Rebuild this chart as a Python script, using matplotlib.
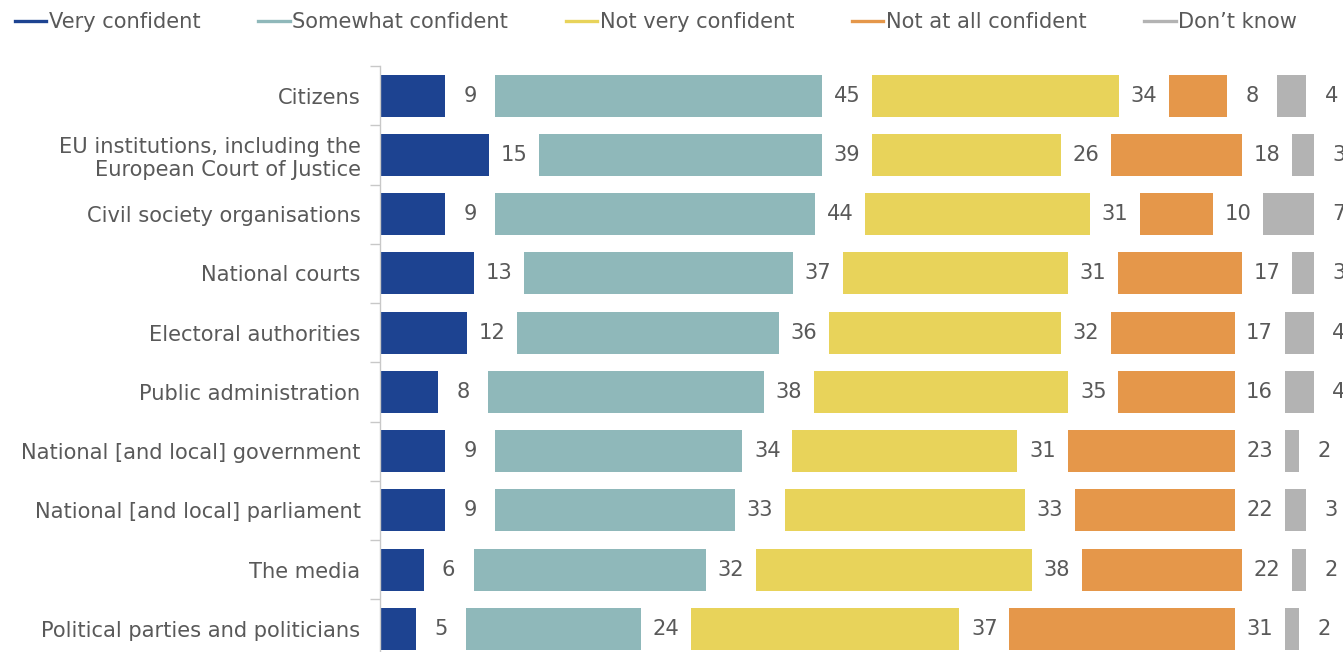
import numpy as np
import matplotlib
matplotlib.use("Agg")
import matplotlib.pyplot as plt
from matplotlib.lines import Line2D

FS = 15.1
plt.rcParams.update({
    "font.family": "DejaVu Sans",
    "font.size": FS,
})

CATEGORIES = [
    "Citizens",
    "EU institutions, including the\nEuropean Court of Justice",
    "Civil society organisations",
    "National courts",
    "Electoral authorities",
    "Public administration",
    "National [and local] government",
    "National [and local] parliament",
    "The media",
    "Political parties and politicians",
]
SERIES = ["Very confident", "Somewhat confident", "Not very confident",
          "Not at all confident", "Don\u2019t know"]

very_confident = [9, 15, 9, 13, 12, 8, 9, 9, 6, 5]
somewhat_confident = [45, 39, 44, 37, 36, 38, 34, 33, 32, 24]
not_very_confident = [34, 26, 31, 31, 32, 35, 31, 33, 38, 37]
not_at_all_confident = [8, 18, 10, 17, 17, 16, 23, 22, 22, 31]
dont_know = [4, 3, 7, 3, 4, 4, 2, 3, 2, 2]

COLORS = ["#1D4391", "#8FB8BA", "#E8D35A", "#E5974A", "#B3B3B3"]
TEXT = "#595959"
GAP = 6.9  # blank space after each segment, holds the value label

values = np.array([very_confident, somewhat_confident, not_very_confident,
                   not_at_all_confident, dont_know], dtype=float)

W, H = 1343, 652
fig = plt.figure(figsize=(W / 100, H / 100), dpi=100)
ax = fig.add_axes([380 / W, -6.6 / H, (W - 380) / W, 592.6 / H])

y = np.arange(len(CATEGORIES))
left = np.zeros(len(CATEGORIES))
for vals, color in zip(values, COLORS):
    ax.barh(y, vals, left=left, height=0.71, color=color, zorder=2)
    for yi, (l, v) in enumerate(zip(left, vals)):
        ax.text(l + v + GAP / 2, yi, f"{v:.0f}", ha="center", va="center",
                color=TEXT, fontsize=FS)
    left = left + vals + GAP

ax.set_xlim(0, 963 / 7.26)
ax.set_ylim(len(CATEGORIES) - 0.5, -0.5)
ax.set_yticks(y)
ax.set_yticklabels(CATEGORIES, color=TEXT, fontsize=FS, ha="right",
                   multialignment="right")
ax.tick_params(axis="y", which="major", length=0, pad=14)
ax.set_yticks(np.arange(len(CATEGORIES) + 1) - 0.5, minor=True)
ax.tick_params(axis="y", which="minor", length=7, color="#C8C8C8", width=1)
ax.set_xticks([])
for side in ["top", "right", "bottom"]:
    ax.spines[side].set_visible(False)
ax.spines["left"].set_color("#C8C8C8")
ax.spines["left"].set_linewidth(1)

handles = [Line2D([0], [0], color=c, lw=2.4) for c in COLORS]
leg = fig.legend(handles, SERIES, loc="center left",
                 bbox_to_anchor=(15 / W, 1 - 22 / H),
                 ncol=5, frameon=False, handlelength=1.5, handletextpad=0.12,
                 columnspacing=2.75, borderaxespad=0, borderpad=0,
                 fontsize=FS)
for t in leg.get_texts():
    t.set_color(TEXT)

fig.savefig("out.png", dpi=100)
